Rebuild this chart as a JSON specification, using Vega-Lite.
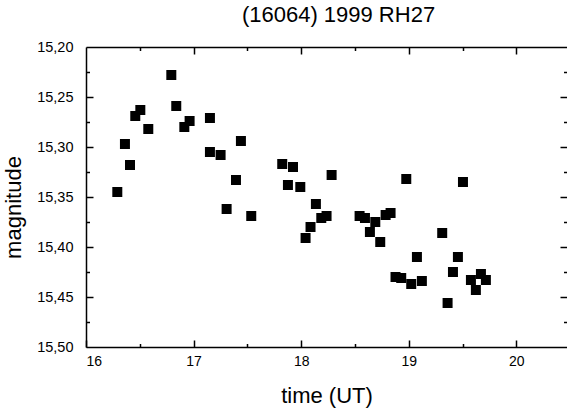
{
  "$schema": "https://vega.github.io/schema/vega-lite/v6.json",
  "width": 481,
  "height": 300,
  "autosize": {"type": "none"},
  "padding": {"left": 86, "top": 47, "right": 0, "bottom": 66},
  "background": "white",
  "title": {"text": "(16064) 1999 RH27", "font": "Liberation Sans", "fontSize": 22, "fontWeight": "normal", "color": "black", "anchor": "middle", "offset": 12, "dx": 12},
  "config": {
    "view": {"stroke": null},
    "axis": {"labelFont": "Liberation Sans", "titleFont": "Liberation Sans", "labelColor": "black", "titleColor": "black", "domainColor": "black", "tickColor": "black", "grid": false, "titleFontWeight": "normal"}
  },
  "data": {"values": [
    {"time": 16.793, "mag": 15.228}, {"time": 16.505, "mag": 15.263}, {"time": 16.458, "mag": 15.269},
    {"time": 16.839, "mag": 15.259}, {"time": 16.963, "mag": 15.274}, {"time": 16.914, "mag": 15.280},
    {"time": 16.579, "mag": 15.282}, {"time": 17.152, "mag": 15.271}, {"time": 16.362, "mag": 15.297},
    {"time": 16.409, "mag": 15.318}, {"time": 16.291, "mag": 15.345}, {"time": 17.152, "mag": 15.305},
    {"time": 17.251, "mag": 15.308}, {"time": 17.440, "mag": 15.294}, {"time": 17.394, "mag": 15.333},
    {"time": 17.307, "mag": 15.362}, {"time": 17.536, "mag": 15.369}, {"time": 17.824, "mag": 15.317},
    {"time": 17.924, "mag": 15.320}, {"time": 17.877, "mag": 15.338}, {"time": 17.992, "mag": 15.340},
    {"time": 18.283, "mag": 15.328}, {"time": 18.137, "mag": 15.357}, {"time": 18.187, "mag": 15.371},
    {"time": 18.236, "mag": 15.369}, {"time": 18.087, "mag": 15.380}, {"time": 18.041, "mag": 15.391},
    {"time": 18.977, "mag": 15.332}, {"time": 19.504, "mag": 15.335}, {"time": 18.543, "mag": 15.369},
    {"time": 18.593, "mag": 15.371}, {"time": 18.689, "mag": 15.375}, {"time": 18.785, "mag": 15.368},
    {"time": 18.831, "mag": 15.366}, {"time": 18.639, "mag": 15.385}, {"time": 18.735, "mag": 15.395},
    {"time": 19.311, "mag": 15.386}, {"time": 19.076, "mag": 15.410}, {"time": 19.457, "mag": 15.410},
    {"time": 19.411, "mag": 15.425}, {"time": 18.877, "mag": 15.430}, {"time": 18.930, "mag": 15.431},
    {"time": 19.023, "mag": 15.437}, {"time": 19.122, "mag": 15.434}, {"time": 19.578, "mag": 15.433},
    {"time": 19.671, "mag": 15.427}, {"time": 19.717, "mag": 15.433}, {"time": 19.624, "mag": 15.443},
    {"time": 19.361, "mag": 15.456}
  ]},
  "resolve": {"axis": {"x": "independent", "y": "independent"}},
  "layer": [
    {
      "mark": {"type": "point", "shape": "square", "filled": true, "color": "black", "opacity": 1, "size": 100, "strokeWidth": 0},
      "encoding": {
        "x": {"field": "time", "type": "quantitative", "scale": {"domain": [16, 20.471], "nice": false, "zero": false},
          "axis": {"orient": "bottom", "values": [16, 17, 18, 19, 20], "format": "d", "ticks": false, "labelPadding": 7, "labelFontSize": 14, "title": "time (UT)", "titleFontSize": 22, "titlePadding": 17, "domainWidth": 1.5}},
        "y": {"field": "mag", "type": "quantitative", "scale": {"domain": [15.2, 15.5], "reverse": true, "nice": false, "zero": false},
          "axis": {"orient": "left", "values": [15.2, 15.25, 15.3, 15.35, 15.4, 15.45, 15.5], "labelExpr": "replace(format(datum.value, '.2f'), '.', ',')", "ticks": false, "labelPadding": 13, "labelFontSize": 14.5, "title": "magnitude", "titleFontSize": 22, "titlePadding": 11, "titleY": 160, "domainWidth": 1.5}}
      }
    },
    {
      "mark": {"type": "point", "opacity": 0},
      "encoding": {
        "x": {"field": "time", "type": "quantitative",
          "axis": {"orient": "bottom", "values": [16, 16.5, 17, 17.5, 18, 18.5, 19, 19.5, 20], "labels": false, "domain": false, "title": null, "tickWidth": 1.5,
            "tickSize": {"condition": {"test": "datum.value % 1 === 0", "value": -7}, "value": -3.5}}},
        "y": {"field": "mag", "type": "quantitative",
          "axis": {"orient": "left", "values": [15.225, 15.25, 15.275, 15.3, 15.325, 15.35, 15.375, 15.4, 15.425, 15.45, 15.475], "labels": false, "domain": false, "title": null, "tickWidth": 1.5,
            "tickSize": {"condition": {"test": "abs(datum.value * 20 - round(datum.value * 20)) < 0.001", "value": -7}, "value": -3.5}}}
      }
    },
    {
      "mark": {"type": "point", "opacity": 0},
      "encoding": {
        "x": {"field": "time", "type": "quantitative",
          "axis": {"orient": "top", "values": [16.5, 17, 17.5, 18, 18.5, 19, 19.5, 20], "labels": false, "domain": true, "domainWidth": 1.5, "title": null, "tickWidth": 1.5,
            "tickSize": {"condition": {"test": "datum.value % 1 === 0", "value": -7}, "value": -3.5}}},
        "y": {"field": "mag", "type": "quantitative",
          "axis": {"orient": "right", "values": [15.225, 15.25, 15.275, 15.3, 15.325, 15.35, 15.375, 15.4, 15.425, 15.45, 15.475], "labels": false, "domain": false, "title": null, "tickWidth": 1.5,
            "tickSize": {"condition": {"test": "abs(datum.value * 20 - round(datum.value * 20)) < 0.001", "value": -7}, "value": -3.5}}}
      }
    }
  ]
}
